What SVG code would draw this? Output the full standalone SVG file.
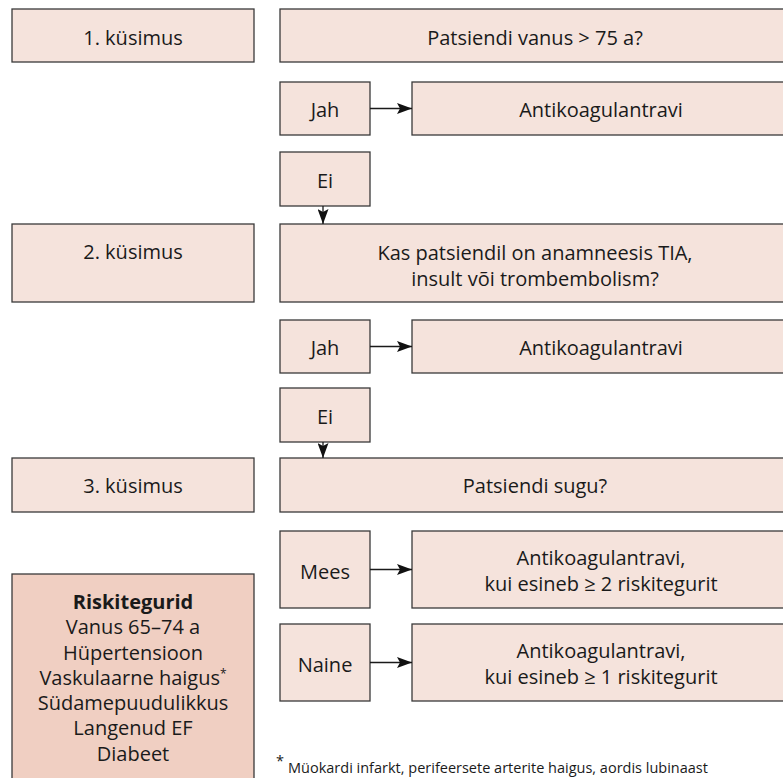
<svg xmlns="http://www.w3.org/2000/svg" width="783" height="778" viewBox="0 0 783 778">
  <style>
    .box { fill: #f5e3dc; stroke: #3a3a3a; stroke-width: 1.3; }
    .risk { fill: #f0cfc2; stroke: #3a3a3a; stroke-width: 1.3; }
    text { font-family: "Open Sans", "Noto Sans", "DejaVu Sans", sans-serif; font-size: 20px; fill: #1a1a1a; text-anchor: middle; }
    .bold { font-weight: bold; }
    .note { font-size: 14.5px; text-anchor: start; }
    .conn { stroke: #1a1a1a; stroke-width: 1.3; fill: none; }
  </style>
  <defs>
    <marker id="arrow" viewBox="0 0 15 11" refX="15" refY="5.5" markerWidth="15" markerHeight="11" markerUnits="userSpaceOnUse" orient="auto">
      <path d="M0,0 L15,5.5 L0,11 L3,5.5 Z" fill="#111"/>
    </marker>
  </defs>

  <rect width="783" height="778" fill="#ffffff"/>

  <!-- Question 1 -->
  <g id="q1-label">
    <rect class="box" x="12" y="9" width="242" height="53"/>
    <text x="133" y="45">1. küsimus</text>
  </g>
  <g id="q1">
    <rect class="box" x="280" y="9" width="510" height="53"/>
    <text x="535" y="45">Patsiendi vanus &gt; 75 a?</text>
  </g>
  <g id="q1-yes">
    <rect class="box" x="280" y="82" width="90" height="53"/>
    <text x="325" y="117">Jah</text>
  </g>
  <g id="q1-result">
    <rect class="box" x="412" y="82" width="378" height="53"/>
    <text x="601" y="117">Antikoagulantravi</text>
  </g>
  <g id="q1-no">
    <rect class="box" x="280" y="152" width="90" height="54"/>
    <text x="325" y="188">Ei</text>
  </g>

  <!-- Question 2 -->
  <g id="q2-label">
    <rect class="box" x="12" y="224" width="242" height="78"/>
    <text x="133" y="259">2. küsimus</text>
  </g>
  <g id="q2">
    <rect class="box" x="280" y="224" width="510" height="78"/>
    <text x="535" y="260">Kas patsiendil on anamneesis TIA,</text>
    <text x="535" y="286">insult või trombembolism?</text>
  </g>
  <g id="q2-yes">
    <rect class="box" x="280" y="320" width="90" height="53"/>
    <text x="325" y="355">Jah</text>
  </g>
  <g id="q2-result">
    <rect class="box" x="412" y="320" width="378" height="53"/>
    <text x="601" y="355">Antikoagulantravi</text>
  </g>
  <g id="q2-no">
    <rect class="box" x="280" y="388" width="90" height="54"/>
    <text x="325" y="424">Ei</text>
  </g>

  <!-- Question 3 -->
  <g id="q3-label">
    <rect class="box" x="12" y="458" width="242" height="54"/>
    <text x="133" y="493">3. küsimus</text>
  </g>
  <g id="q3">
    <rect class="box" x="280" y="458" width="510" height="54"/>
    <text x="535" y="493">Patsiendi sugu?</text>
  </g>
  <g id="q3-male">
    <rect class="box" x="280" y="531" width="90" height="77"/>
    <text x="325" y="579">Mees</text>
  </g>
  <g id="q3-male-result">
    <rect class="box" x="412" y="531" width="378" height="77"/>
    <text x="601" y="565">Antikoagulantravi,</text>
    <text x="601" y="591">kui esineb ≥ 2 riskitegurit</text>
  </g>
  <g id="q3-female">
    <rect class="box" x="280" y="624" width="90" height="77"/>
    <text x="325" y="672">Naine</text>
  </g>
  <g id="q3-female-result">
    <rect class="box" x="412" y="624" width="378" height="77"/>
    <text x="601" y="658">Antikoagulantravi,</text>
    <text x="601" y="684">kui esineb ≥ 1 riskitegurit</text>
  </g>

  <!-- Risk factors -->
  <g id="risk-factors">
    <rect class="risk" x="12" y="574" width="242" height="220"/>
    <text class="bold" x="133" y="609">Riskitegurid</text>
    <text x="133" y="634">Vanus 65–74 a</text>
    <text x="133" y="660">Hüpertensioon</text>
    <text x="133" y="685">Vaskulaarne haigus<tspan font-size="12" dy="-7">*</tspan></text>
    <text x="133" y="710">Südamepuudulikkus</text>
    <text x="133" y="735">Langenud EF</text>
    <text x="133" y="761">Diabeet</text>
  </g>

  <!-- Footnote -->
  <g id="footnote">
    <text class="note" x="276" y="766" font-size="12">*</text>
    <text class="note" x="288" y="773">Müokardi infarkt, perifeersete arterite haigus, aordis lubinaast</text>
  </g>

  <!-- Connectors -->
  <g id="connectors">
    <line class="conn" x1="370" y1="108.5" x2="412" y2="108.5" marker-end="url(#arrow)"/>
    <line class="conn" x1="323" y1="206" x2="323" y2="224" marker-end="url(#arrow)"/>
    <line class="conn" x1="370" y1="346.5" x2="412" y2="346.5" marker-end="url(#arrow)"/>
    <line class="conn" x1="323" y1="442" x2="323" y2="458" marker-end="url(#arrow)"/>
    <line class="conn" x1="370" y1="569.5" x2="412" y2="569.5" marker-end="url(#arrow)"/>
    <line class="conn" x1="370" y1="662.5" x2="412" y2="662.5" marker-end="url(#arrow)"/>
  </g>
</svg>
